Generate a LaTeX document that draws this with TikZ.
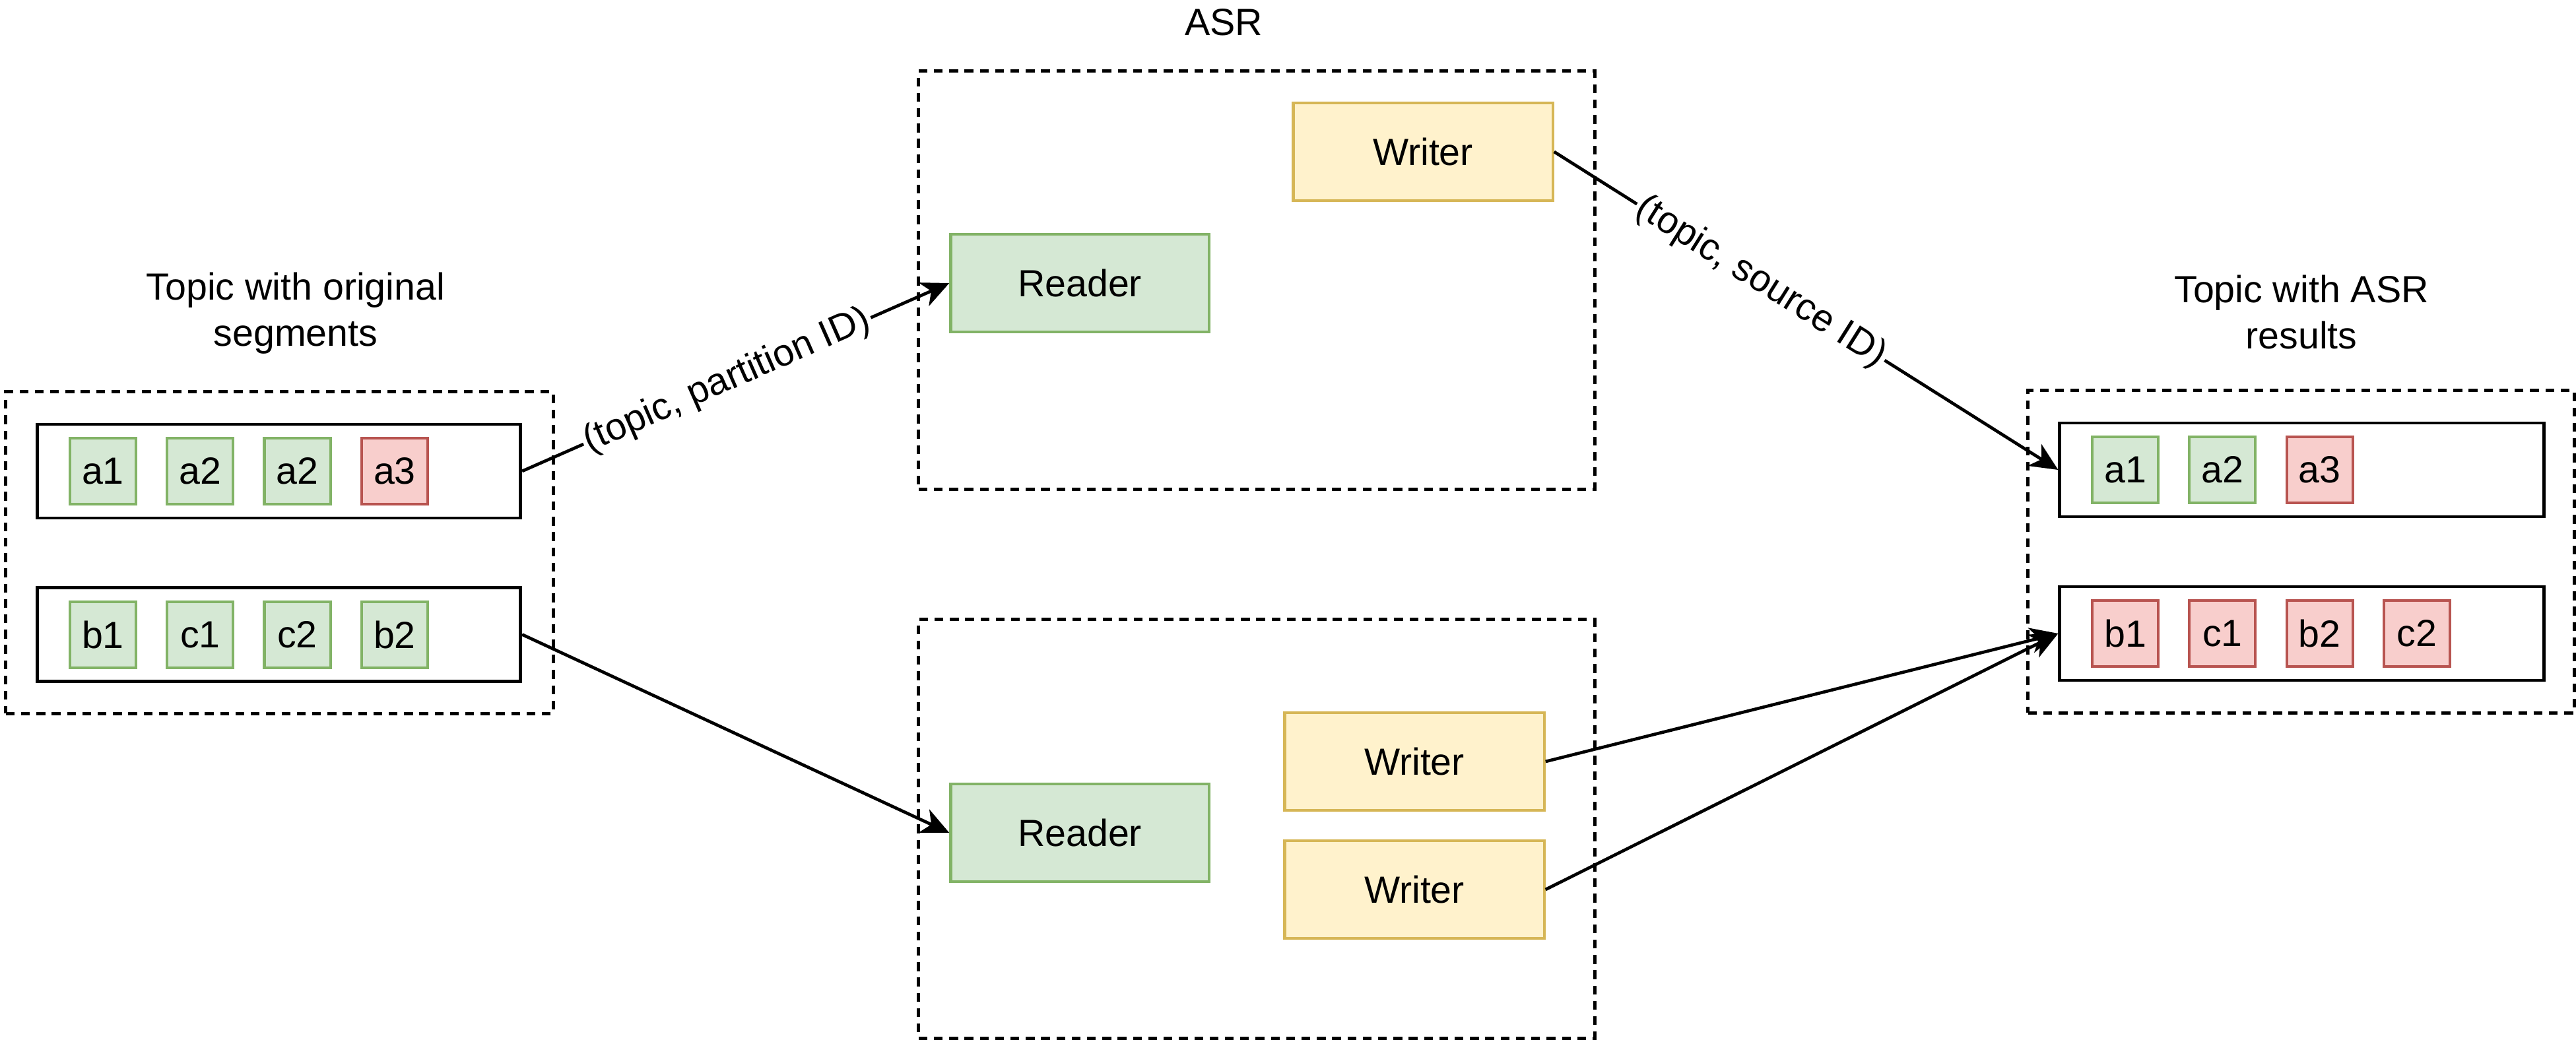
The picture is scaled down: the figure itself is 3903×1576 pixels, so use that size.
\documentclass[tikz,border=0pt]{standalone}
\usepackage{fontspec}
\setmainfont{Liberation Sans}
\usepackage{tikz}
\usetikzlibrary{
  positioning,
  arrows.meta
}
\definecolor{segfill}{HTML}{D5E8D4}
\definecolor{segline}{HTML}{82B366}
\definecolor{lostfill}{HTML}{F8CECC}
\definecolor{lostline}{HTML}{B85450}
\definecolor{wrfill}{HTML}{FFF2CC}
\definecolor{wrline}{HTML}{D6B656}

\begin{document}
\begin{tikzpicture}[
  x=0.01cm, y=-0.01cm,
  >={Stealth[length=12pt, width=11pt, inset=3.5pt]},
  txt/.style={font=\fontsize{16.3}{20}\selectfont, align=center},
  group/.style={draw, line width=1.4pt, dash pattern=on 3.8pt off 2.8pt, inner sep=0pt},
  part/.style={draw, line width=1.35pt, minimum width=7.32cm, minimum height=1.42cm, inner sep=0pt},
  seg/.style={txt, draw=segline, fill=segfill, line width=1.2pt,
              minimum size=1cm, inner sep=0pt},
  lost/.style={seg, draw=lostline, fill=lostfill},
  reader/.style={txt, draw=segline, fill=segfill, line width=1.2pt,
                 minimum width=3.91cm, minimum height=1.48cm},
  writer/.style={txt, draw=wrline, fill=wrfill, line width=1.2pt,
                 minimum width=3.93cm, minimum height=1.48cm},
  arr/.style={->, line width=1.35pt},
  lbl/.style={txt, sloped, fill=white, inner sep=1pt},
]
\useasboundingbox (0,0) rectangle (3903,1576);

\node[txt] (srctitle) at (448,475) {Topic with original\\segments};
\node[group, minimum width=8.29cm, minimum height=4.87cm] (srcgrp) at (423.5,837.5) {};
\node[part] (srcrow1) at (422.5,714) {};
\node[part] (srcrow2) at (422.5,961.5) {};

\node[seg] (srcA1) at (156,714) {a1};
\node[seg, right=0.43cm of srcA1] (srcA2) {a2};
\node[seg, right=0.43cm of srcA2] (srcA3) {a2};
\node[lost, right=0.43cm of srcA3] (srcA4) {a3};

\node[seg] (srcB1) at (156,962) {b1};
\node[seg, right=0.43cm of srcB1] (srcB2) {c1};
\node[seg, right=0.43cm of srcB2] (srcB3) {c2};
\node[seg, right=0.43cm of srcB3] (srcB4) {b2};

\node[txt] (asrtitle) at (1854,34) {ASR};
\node[group, minimum width=10.24cm, minimum height=6.33cm] (asrtop) at (1904,424.5) {};
\node[group, minimum width=10.24cm, minimum height=6.34cm] (asrbot) at (1904,1256) {};

\node[reader] (readtop) at (1636,429) {Reader};
\node[writer] (writetop) at (2156,230) {Writer};
\node[reader] (readbot) at (1636,1262) {Reader};
\node[writer] (writebot1) at (2143,1154) {Writer};
\node[writer] (writebot2) at (2143,1348) {Writer};

\node[txt] (outtitle) at (3487,473) {Topic with ASR\\results};
\node[group, minimum width=8.27cm, minimum height=4.88cm] (outgrp) at (3486.5,836) {};
\node[part, minimum width=7.33cm] (outrow1) at (3487.5,712) {};
\node[part, minimum width=7.33cm] (outrow2) at (3487.5,960) {};

\node[seg] (outA1) at (3220,712) {a1};
\node[seg, right=0.43cm of outA1] (outA2) {a2};
\node[lost, right=0.43cm of outA2] (outA3) {a3};

\node[lost] (outB1) at (3220,960) {b1};
\node[lost, right=0.43cm of outB1] (outB2) {c1};
\node[lost, right=0.43cm of outB2] (outB3) {b2};
\node[lost, right=0.43cm of outB3] (outB4) {c2};

\draw[arr] (srcrow1.east) -- (readtop.west) node[lbl, pos=0.48] {(topic, partition ID)};
\draw[arr] (srcrow2.east) -- (readbot.west);
\draw[arr] (writetop.east) -- (outrow1.west) node[lbl, pos=0.41] {(topic, source ID)};
\draw[arr] (writebot1.east) -- (outrow2.west);
\draw[arr] (writebot2.east) -- (outrow2.west);

\end{tikzpicture}
\end{document}
